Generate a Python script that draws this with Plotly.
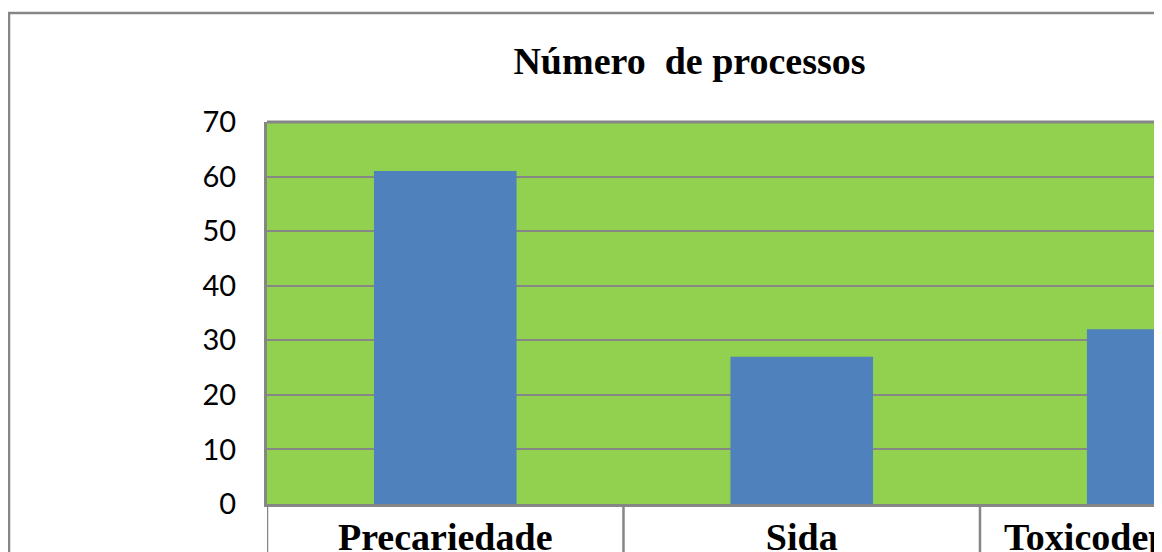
import plotly.graph_objects as go

categories = ["Precariedade", "Sida", "Toxicodependência"]
values = [61, 27, 32]
title_text = "Número\u00a0 de processos"
y_ticks = [0, 10, 20, 30, 40, 50, 60, 70]

# page has an 8px body margin; figure coordinates = page coordinates - 8
OFF = 8
W, H = 1162 - OFF, 552 - OFF
L, T = 267 - OFF, 122 - OFF
R = W - (1155 - OFF)
B = H - (504 - OFF)
PW, PH = W - L - R, H - T - B
x_range = [-0.5, 1.991]

def px_to_paper_x(px):
    return (px - L) / PW

def px_to_paper_y(py):
    return (H - B - py) / PH

GRAY = "#868686"

fig = go.Figure()
fig.add_trace(go.Bar(
    x=categories, y=values, width=0.4,
    marker=dict(color="#4F81BD", line=dict(width=0)),
))

shapes = []
# outer chart border (cropped at right & bottom)
shapes.append(dict(type="rect", xref="paper", yref="paper",
                   x0=px_to_paper_x(1), x1=px_to_paper_x(W + 20),
                   y0=px_to_paper_y(H + 20), y1=px_to_paper_y(13 - OFF),
                   line=dict(color=GRAY, width=2.5), fillcolor="rgba(0,0,0,0)", layer="below"))
# category separators below the axis
for b in [-0.5, 0.5, 1.5]:
    shapes.append(dict(type="line", xref="x", yref="paper", x0=b, x1=b,
                       y0=0, y1=px_to_paper_y(H + 5),
                       line=dict(color=GRAY, width=2.5)))
# top border of plot area
shapes.append(dict(type="line", xref="paper", yref="paper", x0=0, x1=1, y0=1, y1=1,
                   line=dict(color=GRAY, width=3)))

annotations = []
# third category label, cropped by the figure edge
i = 2
annotations.append(dict(text="<b>%s</b>" % categories[i], xref="paper", yref="paper",
                        x=(i - x_range[0]) / (x_range[1] - x_range[0]), y=0,
                        xanchor="center", yanchor="top", yshift=-10, showarrow=False,
                        font=dict(family="Liberation Serif", size=38, color="black")))

fig.update_layout(
    width=W, height=H,
    margin=dict(l=L, r=R, t=T, b=B, autoexpand=False),
    paper_bgcolor="white",
    plot_bgcolor="#92D050",
    showlegend=False,
    title=dict(text="<b>%s</b>" % title_text, x=(689.5 - OFF) / W, xanchor="center",
               y=(H - (61 - OFF)) / H, yanchor="middle",
               font=dict(family="Liberation Serif", size=38, color="black")),
    xaxis=dict(range=x_range, showline=True, linecolor=GRAY, linewidth=3,
               showgrid=False, ticks="", automargin=False, ticklabelstandoff=-3,
               zeroline=False,
               tickfont=dict(family="Liberation Serif", size=38, color="black"),
               tickvals=[0, 1], ticktext=["<b>%s</b>" % c for c in categories[:2]]),
    yaxis=dict(range=[0, 70], tickvals=y_ticks, showline=True, linecolor=GRAY, linewidth=3,
               showgrid=True, gridcolor=GRAY, gridwidth=2, zeroline=False, automargin=False,
               ticks="outside", ticklen=22, tickcolor="rgba(0,0,0,0)",
               tickfont=dict(family="Lato", size=29, color="black")),
    shapes=shapes,
    annotations=annotations,
)

fig.write_html("out.html")
